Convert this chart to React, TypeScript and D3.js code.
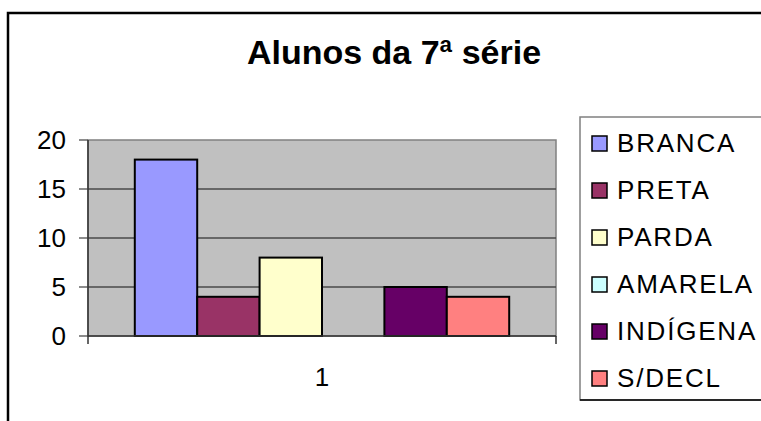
import React from "react";
import * as d3 from "d3";

const categories = ["1"];
const series = ["BRANCA", "PRETA", "PARDA", "AMARELA", "INDÍGENA", "S/DECL"];
const values = [18, 4, 8, 0, 5, 4];
const colors = ["#9999FF", "#993366", "#FFFFCC", "#CCFFFF", "#660066", "#FF8080"];
const yTicks = [0, 5, 10, 15, 20];

const W = 761;
const H = 421;
const plot = { left: 88, right: 556, top: 140, bottom: 336 };
const font = "'Liberation Sans', Arial, Helvetica, sans-serif";

export default function App() {
  // category scale, then the six series inside it (gap width 150%)
  const x0 = d3.scaleBand().domain(categories).range([plot.left, plot.right]);
  const x1 = d3
    .scaleBand()
    .domain(series)
    .range([0, x0.bandwidth()])
    .paddingInner(0)
    .paddingOuter(0.75);
  const y = d3.scaleLinear().domain([0, 20]).range([plot.bottom, plot.top]);

  const legendTop = 117;
  const legendStep = 47;

  return (
    <svg
      width={W}
      height={H}
      style={{ position: "fixed", left: 0, top: 0, background: "#fff" }}
      fontFamily={font}
    >
      {/* outer chart border, runs off the picture */}
      <rect x={8} y={13} width={W + 20} height={H + 20} fill="#fff" stroke="#000" strokeWidth={2.5} />

      <text x={394} y={64} textAnchor="middle" fontSize={34} fontWeight="bold" fill="#000">
        Alunos da 7ª série
      </text>

      {/* plot area */}
      <rect
        x={plot.left}
        y={plot.top}
        width={plot.right - plot.left}
        height={plot.bottom - plot.top}
        fill="#C0C0C0"
        stroke="#808080"
        strokeWidth={1.5}
      />
      {yTicks.map((t) => (
        <g key={t}>
          {t > 0 && t < 20 && (
            <line x1={plot.left} x2={plot.right} y1={y(t)} y2={y(t)} stroke="#4a4a4a" strokeWidth={1.5} />
          )}
          <line x1={plot.left - 9} x2={plot.left} y1={y(t)} y2={y(t)} stroke="#666" strokeWidth={1.5} />
          <text x={66} y={y(t)} dy="0.36em" textAnchor="end" fontSize={26} fill="#000">
            {t}
          </text>
        </g>
      ))}

      {/* bars */}
      {categories.map((c) => (
        <g key={c} transform={`translate(${x0(c)},0)`}>
          {series.map((s, i) => (
            <rect
              key={s}
              x={x1(s)}
              y={y(values[i])}
              width={x1.bandwidth()}
              height={plot.bottom - y(values[i])}
              fill={colors[i]}
              stroke="#000"
              strokeWidth={values[i] > 0 ? 2 : 0}
            />
          ))}
          <text
            x={x0.bandwidth() / 2}
            y={386}
            textAnchor="middle"
            fontSize={26}
            fill="#000"
          >
            {c}
          </text>
        </g>
      ))}

      {/* axes */}
      <line x1={plot.left} x2={plot.right} y1={plot.bottom} y2={plot.bottom} stroke="#333" strokeWidth={1.5} />
      <line x1={plot.left} x2={plot.left} y1={plot.top} y2={plot.bottom + 8} stroke="#333" strokeWidth={1.5} />
      <line x1={plot.right} x2={plot.right} y1={plot.bottom} y2={plot.bottom + 8} stroke="#333" strokeWidth={1.5} />

      {/* legend */}
      <rect x={580} y={legendTop} width={200} height={400 - legendTop} fill="#fff" stroke="#808080" strokeWidth={1.5} />
      <line x1={580} x2={W} y1={400} y2={400} stroke="#000" strokeWidth={1.5} />
      {series.map((s, i) => {
        const cy = legendTop + 26 + i * legendStep;
        return (
          <g key={s}>
            <rect x={592} y={cy - 7} width={15} height={15} fill={colors[i]} stroke="#000" strokeWidth={1.5} />
            <text x={617} y={cy} dy="0.36em" fontSize={26} letterSpacing={1.8} fill="#000">
              {s}
            </text>
          </g>
        );
      })}
    </svg>
  );
}
